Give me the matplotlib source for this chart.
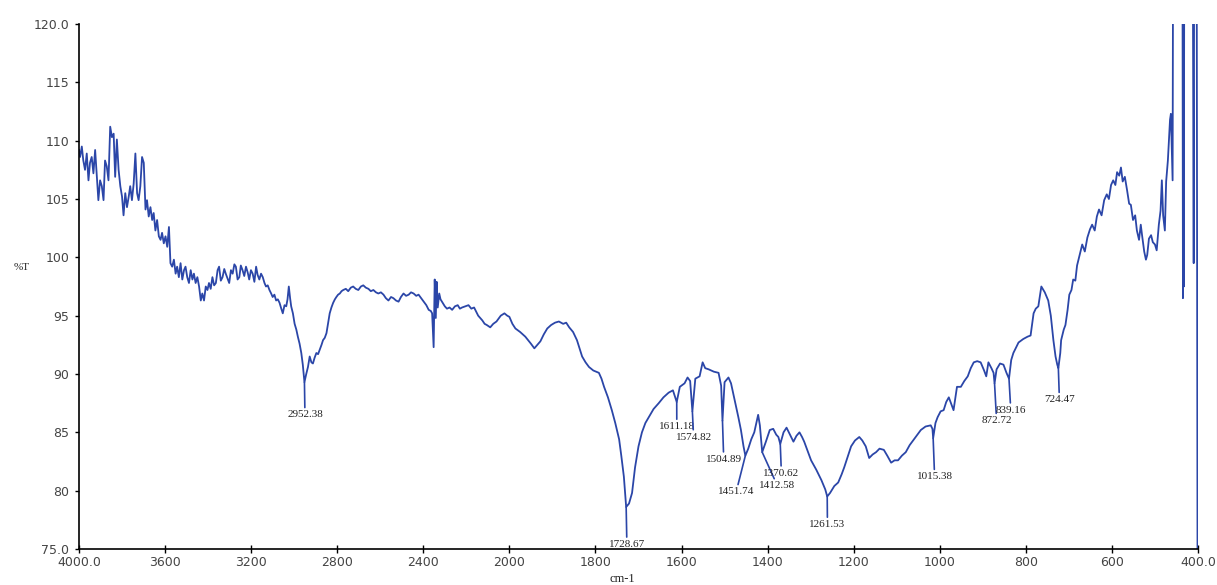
import numpy as np
import matplotlib
matplotlib.use("Agg")
import matplotlib.pyplot as plt

# IR spectrum, wavenumber (cm-1) vs transmittance (%T)
wavenumber = [
    4000, 3995, 3987, 3980, 3972, 3964, 3956, 3949, 3941, 3933, 3925, 3917, 3910, 3902, 3894, 3886,
    3879, 3871, 3863, 3855, 3847, 3839, 3832, 3824, 3816, 3808, 3800, 3793, 3785, 3777, 3769, 3762,
    3754, 3746, 3738, 3730, 3723, 3715, 3707, 3699, 3691, 3684, 3676, 3668, 3660, 3653, 3645, 3637,
    3629, 3621, 3614, 3606, 3598, 3590, 3582, 3575, 3567, 3559, 3551, 3544, 3536, 3528, 3520, 3512,
    3505, 3497, 3489, 3481, 3473, 3466, 3458, 3450, 3442, 3434, 3427, 3419, 3411, 3403, 3396, 3388,
    3380, 3372, 3364, 3356, 3349, 3341, 3333, 3325, 3318, 3310, 3302, 3294, 3286, 3278, 3271, 3263,
    3255, 3248, 3240, 3232, 3224, 3216, 3209, 3201, 3193, 3185, 3177, 3170, 3162, 3154, 3146, 3138,
    3131, 3123, 3115, 3107, 3100, 3092, 3084, 3076, 3068, 3060, 3053, 3045, 3037, 3031, 3025, 3019,
    3014, 3006, 2998, 2990, 2983, 2975, 2967, 2960, 2952.38, 2944, 2936, 2928, 2920, 2913, 2905, 2897,
    2889, 2881, 2873, 2866, 2858, 2850, 2842, 2835, 2827, 2819, 2811, 2804, 2796, 2788, 2780, 2772,
    2760, 2749, 2737, 2726, 2714, 2702, 2690, 2679, 2667, 2655, 2644, 2632, 2620, 2609, 2597, 2585,
    2574, 2562, 2550, 2539, 2527, 2515, 2504, 2492, 2480, 2468, 2457, 2445, 2433, 2422, 2410, 2398,
    2386, 2375, 2365, 2359, 2352, 2347, 2342, 2338, 2333, 2326, 2320, 2310, 2300, 2290, 2278, 2266,
    2253, 2240, 2230, 2220, 2205, 2190, 2177, 2164, 2145, 2126, 2115, 2105, 2089, 2075, 2060, 2040,
    2023, 2010, 2000, 1993, 1986, 1975, 1963, 1950, 1942, 1935, 1928, 1920, 1912, 1903, 1894, 1885,
    1875, 1868, 1861, 1852, 1843, 1836, 1831, 1823, 1815, 1805, 1792, 1786, 1780, 1771, 1762, 1754,
    1745, 1740, 1734, 1728.67, 1722, 1715, 1708, 1700, 1692, 1684, 1676, 1665, 1653, 1642, 1630, 1620,
    1611.18, 1604, 1593, 1586, 1580, 1574.82, 1568, 1558, 1551, 1545, 1537, 1525, 1514, 1508, 1504.89, 1500,
    1491, 1485, 1475, 1468, 1462, 1456, 1451.74, 1445, 1438, 1431, 1422, 1418, 1412.58, 1404, 1395, 1387,
    1380, 1375, 1370.62, 1363, 1356, 1348, 1340, 1333, 1326, 1320, 1315, 1307, 1299, 1287, 1275, 1266,
    1261.53, 1255, 1245, 1236, 1228, 1222, 1214, 1206, 1197, 1187, 1180, 1172, 1164, 1156, 1148, 1140,
    1130, 1122, 1113, 1105, 1097, 1088, 1079, 1070, 1060, 1052, 1044, 1033, 1021, 1017, 1015.38, 1010,
    1005, 998, 991, 985, 979, 973, 968, 960, 951, 943, 935, 928, 921, 913, 905, 897,
    892, 887, 880, 875, 872.72, 868, 860, 852, 845, 839.16, 834, 829, 817, 806, 796, 789,
    782, 777, 771, 764, 756, 748, 742, 736, 731, 727, 724.47, 720, 718, 712, 708, 703,
    699, 694, 690, 685, 681, 675, 669, 663, 657, 651, 646, 640, 635, 630, 624, 618,
    612, 607, 602, 597, 592, 588, 583, 579, 575, 570, 565, 560, 556, 551, 546, 542,
    537, 533, 530, 525, 521, 518, 514, 509, 505, 500, 496, 491, 487, 484, 481, 477,
    474, 470, 467, 465, 463, 461, 459, 458, 446, 436, 435, 434, 433, 432, 412, 410,
    409, 403, 401,
]
transmittance = [
    109.2, 108.6, 109.5, 108.3, 107.5, 108.9, 106.6, 108.1, 108.6, 107.2, 109.2, 106.9, 104.9, 106.6, 106.1, 104.9,
    108.3, 107.8, 106.6, 111.2, 110.3, 110.6, 106.9, 110.1, 107.5, 106.1, 105.2, 103.6, 105.5, 104.3, 105.2, 106.1,
    104.9, 106.3, 108.9, 105.5, 104.9, 106.1, 108.6, 108.1, 104.1, 104.9, 103.5, 104.3, 103.2, 103.8, 102.3, 103.2,
    101.8, 101.5, 102.1, 101.2, 101.8, 100.9, 102.6, 99.5, 99.2, 99.8, 98.6, 99.2, 98.3, 99.5, 98.1, 98.9,
    99.2, 98.3, 97.8, 98.9, 98.1, 98.6, 97.8, 98.3, 97.5, 96.3, 96.9, 96.3, 97.5, 97.2, 97.8, 97.3,
    98.3, 97.6, 97.8, 98.9, 99.2, 98.0, 98.3, 99.0, 98.6, 98.2, 97.8, 98.9, 98.6, 99.4, 99.2, 98.1,
    98.3, 99.3, 98.9, 98.4, 99.2, 98.7, 98.1, 98.9, 98.6, 97.9, 99.2, 98.5, 98.1, 98.6, 98.3, 97.8,
    97.5, 97.6, 97.2, 96.9, 96.6, 96.8, 96.3, 96.4, 96.1, 95.6, 95.2, 95.9, 95.8, 96.4, 97.5, 96.5,
    95.8, 95.2, 94.3, 93.8, 93.2, 92.6, 91.8, 90.8, 89.3, 90.0, 90.6, 91.5, 91.0, 90.9, 91.4, 91.8,
    91.7, 92.1, 92.5, 92.9, 93.1, 93.5, 94.4, 95.2, 95.7, 96.1, 96.4, 96.6, 96.8, 96.9, 97.1, 97.2,
    97.3, 97.1, 97.4, 97.5, 97.3, 97.2, 97.5, 97.6, 97.4, 97.3, 97.1, 97.2, 97.0, 96.9, 97.0, 96.8,
    96.5, 96.3, 96.6, 96.5, 96.3, 96.2, 96.6, 96.9, 96.7, 96.8, 97.0, 96.9, 96.7, 96.8, 96.5, 96.2,
    95.9, 95.5, 95.4, 95.2, 92.3, 98.1, 94.8, 97.9, 95.7, 96.9, 96.4, 96.1, 95.8, 95.6, 95.7, 95.5,
    95.8, 95.9, 95.6, 95.7, 95.8, 95.9, 95.6, 95.7, 95.0, 94.6, 94.3, 94.2, 94.0, 94.3, 94.5, 95.0,
    95.2, 95.0, 94.9, 94.3, 93.9, 93.6, 93.2, 92.6, 92.2, 92.5, 92.8, 93.4, 93.9, 94.2, 94.4, 94.5,
    94.3, 94.4, 94.0, 93.6, 92.9, 92.1, 91.5, 91.0, 90.6, 90.3, 90.1, 89.6, 88.9, 88.0, 86.9, 85.8,
    84.4, 83.0, 81.2, 78.6, 78.9, 79.8, 82.0, 83.8, 85.0, 85.8, 86.3, 87.0, 87.5, 88.0, 88.4, 88.6,
    87.6, 88.9, 89.2, 89.7, 89.4, 86.8, 89.6, 89.8, 91.0, 90.5, 90.4, 90.2, 90.1, 89.0, 86.0, 89.3,
    89.7, 89.2, 87.5, 86.3, 85.2, 83.8, 83.0, 83.6, 84.4, 85.0, 86.5, 85.6, 83.3, 84.2, 85.2, 85.3,
    84.8, 84.6, 84.0, 85.0, 85.4, 84.8, 84.2, 84.7, 85.0, 84.6, 84.2, 83.4, 82.6, 81.8, 80.9, 80.1,
    79.5, 79.8, 80.4, 80.7, 81.4, 82.0, 82.9, 83.8, 84.3, 84.6, 84.3, 83.8, 82.8, 83.1, 83.3, 83.6,
    83.5, 83.0, 82.4, 82.6, 82.6, 83.0, 83.3, 83.9, 84.4, 84.8, 85.2, 85.5, 85.6, 85.3, 84.5, 85.8,
    86.3, 86.8, 86.9, 87.6, 88.0, 87.4, 86.9, 88.9, 88.9, 89.4, 89.8, 90.5, 91.0, 91.1, 91.0, 90.3,
    89.8, 91.0, 90.5, 90.1, 89.2, 90.4, 90.9, 90.8, 90.1, 89.6, 91.2, 91.8, 92.7, 93.0, 93.2, 93.3,
    95.2, 95.6, 95.8, 97.5, 97.0, 96.3, 95.0, 92.9, 91.5, 90.8, 90.5, 91.8, 92.9, 93.8, 94.2, 95.5,
    96.8, 97.2, 98.1, 98.0, 99.3, 100.2, 101.1, 100.5, 101.7, 102.4, 102.8, 102.3, 103.5, 104.1, 103.6, 104.9,
    105.4, 105.0, 106.2, 106.6, 106.2, 107.3, 107.0, 107.7, 106.5, 106.9, 105.8, 104.6, 104.5, 103.2, 103.6, 102.3,
    101.5, 102.8, 101.9, 100.5, 99.8, 100.2, 101.6, 101.9, 101.3, 101.1, 100.6, 102.8, 104.0, 106.6, 103.6, 102.3,
    106.5, 108.3, 110.5, 111.8, 112.3, 109.5, 106.6, 125.0, 125.0, 125.0, 96.5, 125.0, 97.5, 125.0, 125.0, 99.5,
    125.0, 125.0, 70.0,
]

# labelled bands: position, curve value, label position
peak_wn = [2952.38, 1728.67, 1611.18, 1574.82, 1504.89, 1451.74, 1412.58,
           1370.62, 1261.53, 1015.38, 872.72, 839.16, 724.47]
peak_t = [89.3, 78.6, 87.6, 86.8, 86.0, 83.0, 83.3, 84.0, 79.5, 84.5, 89.2, 89.6, 90.5]
label_wn = [2950, 1727, 1611, 1572, 1502, 1473, 1377, 1368, 1261, 1012, 868, 835, 722]
label_t = [86.5, 75.4, 85.5, 84.6, 82.7, 79.9, 80.4, 81.5, 77.1, 81.2, 86.0, 86.9, 87.8]

xticks = [4000, 3600, 3200, 2800, 2400, 2000, 1800, 1600, 1400, 1200, 1000, 800, 600, 400]
xtick_labels = ["4000.0", "3600", "3200", "2800", "2400", "2000", "1800", "1600",
                "1400", "1200", "1000", "800", "600", "400.0"]
yticks = [75, 80, 85, 90, 95, 100, 105, 110, 115, 120]
ytick_labels = ["75.0", "80", "85", "90", "95", "100", "105", "110", "115", "120.0"]

blue = "#2b46a8"


# the axis is compressed by half above 2000 cm-1
def fwd(w):
    w = np.asarray(w, dtype=float)
    return np.where(w > 2000, 2000 + (w - 2000) / 2, w)


def inv(p):
    p = np.asarray(p, dtype=float)
    return np.where(p > 2000, 2000 + (p - 2000) * 2, p)


fig = plt.figure(figsize=(12.17, 5.85), dpi=100)
ax = fig.add_axes([79 / 1217, 1 - 549 / 585, (1198 - 79) / 1217, (549 - 24) / 585])

ax.plot(wavenumber, transmittance, color=blue, lw=1.3)
ax.set_xscale("function", functions=(fwd, inv))
ax.set_xlim(4000, 400)
ax.set_ylim(75, 120)

for w, t, lw_, lt, in zip(peak_wn, peak_t, label_wn, label_t):
    ax.annotate(f"{w:.2f}", xy=(w, t), xytext=(lw_, lt), ha="center", va="center",
                fontsize=8, family="Liberation Serif", color="#222222",
                arrowprops=dict(arrowstyle="-", color=blue, lw=1.2,
                                shrinkA=0, shrinkB=0))

ax.set_xticks(xticks)
ax.set_xticklabels(xtick_labels)
ax.set_yticks(yticks)
ax.set_yticklabels(ytick_labels)
ax.tick_params(axis="x", direction="inout", length=6, width=1, labelsize=9,
               labelcolor="#444444", pad=2)
ax.tick_params(axis="y", direction="out", length=3, width=1, labelsize=9,
               labelcolor="#444444", pad=4)
ax.minorticks_off()

for side in ["top", "right"]:
    ax.spines[side].set_visible(False)
for side in ["left", "bottom"]:
    ax.spines[side].set_linewidth(1.2)

fig.text(22 / 1217, 1 - 268 / 585, "%T", ha="center", va="center",
         fontsize=8, family="Liberation Serif", color="#222222")
fig.text(622 / 1217, 1 - 579 / 585, "cm-1", ha="center", va="center",
         fontsize=9, family="Liberation Serif", color="#222222")

fig.savefig("out.png", dpi=100)
